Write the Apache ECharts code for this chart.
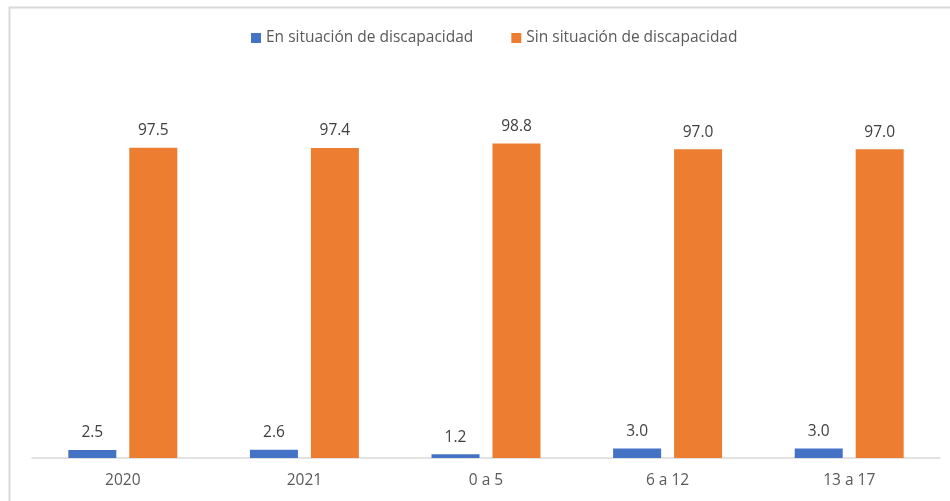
<!DOCTYPE html>
<html>
<head>
    <meta charset="utf-8">
    <title>ECharts</title>
    <script src="https://cdn.jsdelivr.net/npm/echarts@6/dist/echarts.min.js"></script>
    <style type="text/css">
        * { margin: 0; padding: 0; }
        body { background: #ffffff; }
    </style>
</head>
<body>
<div id="main" style="width: 950px; height: 501px;"></div>
<script type="text/javascript">
    // datos del grafico
    var categorias = ['2020', '2021', '0 a 5', '6 a 12', '13 a 17'];
    var conDiscapacidad = [2.5, 2.6, 1.2, 3.0, 3.0];
    var sinDiscapacidad = [97.5, 97.4, 98.8, 97.0, 97.0];
    var nombresSeries = ['En situación de discapacidad', 'Sin situación de discapacidad'];

    var myChart = echarts.init(document.getElementById('main'));
    var fuente = 'Open Sans, Noto Sans, sans-serif';

    var etiqueta = {
        show: true,
        position: 'top',
        distance: 9,
        color: '#404040',
        fontSize: 15.5,
        fontFamily: fuente,
        formatter: function (p) { return p.value.toFixed(1); }
    };

    var option = {
        animation: false,
        color: ['#4472c4', '#ed7d31'],
        graphic: [{
            type: 'rect',
            shape: { x: 9.5, y: 7.5, width: 1000, height: 600 },
            style: { fill: 'none', stroke: '#d9d9d9', lineWidth: 2 },
            silent: true
        }],
        legend: {
            top: 25,
            left: 246,
            itemWidth: 10,
            itemHeight: 10,
            itemGap: 38,
            icon: 'rect',
            textStyle: { color: '#595959', fontSize: 15.5, fontFamily: fuente }
        },
        grid: { left: 32, right: 10, top: 76, bottom: 43 },
        xAxis: {
            type: 'category',
            data: categorias,
            axisTick: { show: false },
            axisLine: { lineStyle: { color: '#d9d9d9', width: 1.5 } },
            axisLabel: { color: '#595959', fontSize: 15.5, fontFamily: fuente, margin: 15 }
        },
        yAxis: {
            type: 'value',
            min: 0,
            max: 120,
            show: false,
            splitLine: { show: false }
        },
        series: [
            {
                name: nombresSeries[0],
                type: 'bar',
                barWidth: 48,
                barGap: '27%',
                data: conDiscapacidad,
                label: etiqueta
            },
            {
                name: nombresSeries[1],
                type: 'bar',
                barWidth: 48,
                barGap: '27%',
                data: sinDiscapacidad,
                label: etiqueta
            }
        ]
    };

    myChart.setOption(option);
</script>
</body>
</html>
